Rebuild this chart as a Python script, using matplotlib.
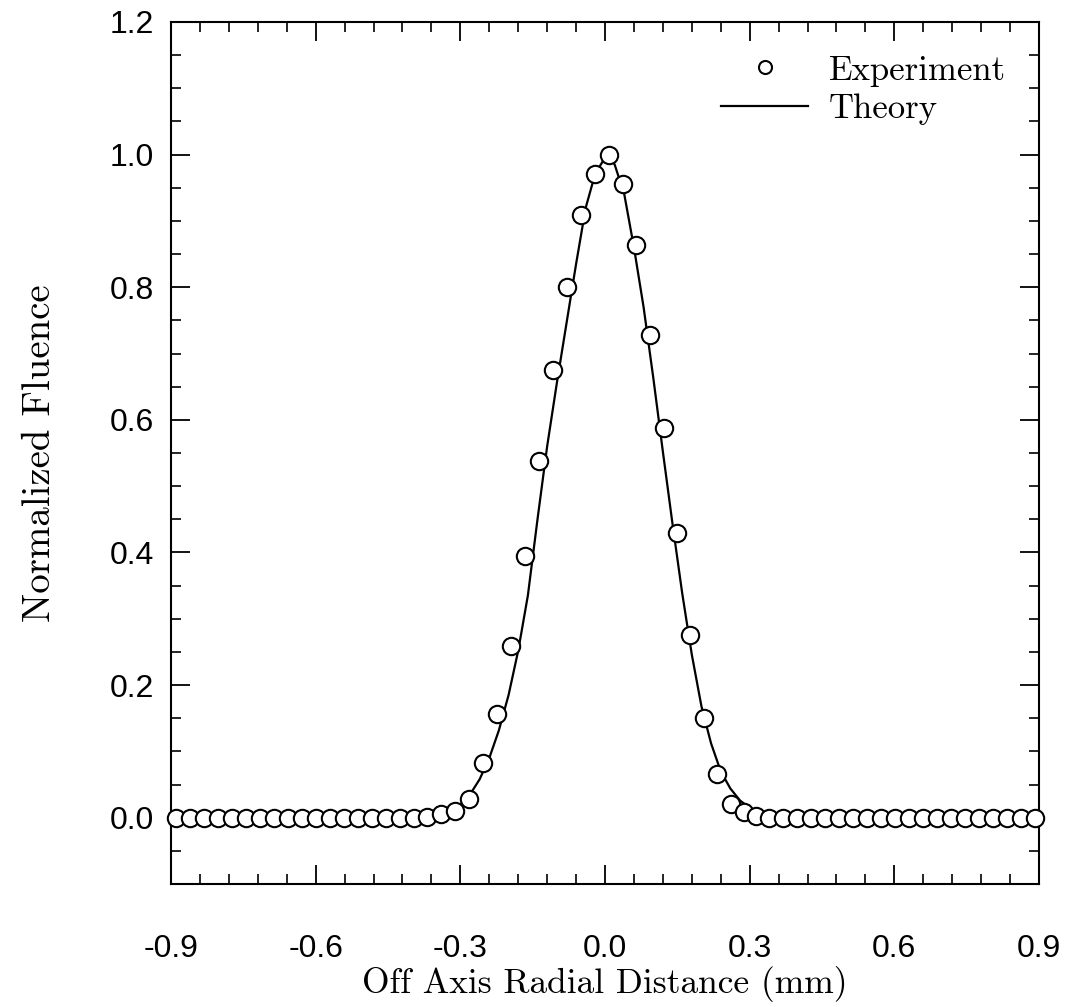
import matplotlib
matplotlib.use("Agg")
import matplotlib.pyplot as plt
from matplotlib.ticker import MultipleLocator, FixedLocator

exp_x = [-0.890, -0.861, -0.832, -0.803, -0.774, -0.745, -0.716, -0.687, -0.658,
         -0.629, -0.600, -0.571, -0.542, -0.513, -0.484, -0.455, -0.426, -0.397,
         -0.370, -0.340, -0.311, -0.282, -0.254, -0.225, -0.196, -0.166, -0.137,
         -0.108, -0.078, -0.049, -0.021, 0.008, 0.037, 0.065, 0.094, 0.122,
         0.150, 0.177, 0.205, 0.233, 0.261, 0.288, 0.313, 0.340, 0.369, 0.398,
         0.427, 0.456, 0.485, 0.514, 0.543, 0.572, 0.601, 0.630, 0.659, 0.688,
         0.717, 0.746, 0.775, 0.804, 0.833, 0.862, 0.891]
exp_y = [0.0, 0.0, 0.0, 0.0, 0.0, 0.0, 0.0, 0.0, 0.0,
         0.0, 0.0, 0.0, 0.0, 0.0, 0.0, 0.0, 0.0, 0.0,
         0.001, 0.005, 0.010, 0.028, 0.083, 0.156, 0.259, 0.395, 0.538,
         0.675, 0.801, 0.909, 0.971, 1.000, 0.955, 0.863, 0.728, 0.587,
         0.430, 0.276, 0.151, 0.066, 0.021, 0.009, 0.003, 0.0, 0.0, 0.0,
         0.0, 0.0, 0.0, 0.0, 0.0, 0.0, 0.0, 0.0, 0.0, 0.0,
         0.0, 0.0, 0.0, 0.0, 0.0, 0.0, 0.0]

# ---- Theory curve ----
th_x = [-0.900, -0.450, -0.400, -0.370, -0.340, -0.320, -0.300, -0.280, -0.260,
        -0.240, -0.220, -0.200, -0.180, -0.160, -0.140, -0.120, -0.100, -0.080,
        -0.060, -0.040, -0.020, 0.000, 0.007, 0.020, 0.040, 0.060, 0.080, 0.100,
        0.120, 0.140, 0.160, 0.180, 0.200, 0.220, 0.240, 0.260, 0.280, 0.300,
        0.320, 0.350, 0.380, 0.450, 0.900]
th_y = [0.0, 0.0, 0.001, 0.003, 0.007, 0.012, 0.020, 0.035, 0.058,
        0.090, 0.132, 0.185, 0.252, 0.335, 0.450, 0.560, 0.655, 0.745,
        0.835, 0.920, 0.972, 0.995, 0.997, 0.985, 0.940, 0.860, 0.770, 0.664,
        0.552, 0.443, 0.339, 0.246, 0.168, 0.112, 0.070, 0.044, 0.026, 0.015,
        0.007, 0.001, 0.0, 0.0, 0.0]

x_ticks = [-0.9, -0.6, -0.3, 0.0, 0.3, 0.6, 0.9]
x_tick_labels = ["-0.9", "-0.6", "-0.3", "0.0", "0.3", "0.6", "0.9"]
y_ticks = [0.0, 0.2, 0.4, 0.6, 0.8, 1.0, 1.2]
y_tick_labels = ["0.0", "0.2", "0.4", "0.6", "0.8", "1.0", "1.2"]

serif = "cmr10"
sans = "Liberation Sans"

fig = plt.figure(figsize=(10.73, 10.07), dpi=100)
ax = fig.add_axes([0.1594, 0.1221, 0.8089, 0.8561])

ax.plot(th_x, th_y, color="black", lw=1.6, label="Theory", zorder=2)
ax.plot(exp_x, exp_y, linestyle="none", marker="o", markersize=12.5,
        markerfacecolor="white", markeredgecolor="black", markeredgewidth=1.5,
        label="Experiment", zorder=3, clip_on=False)

ax.set_xlim(-0.9, 0.9)
ax.set_ylim(-0.1, 1.2)

ax.xaxis.set_major_locator(FixedLocator(x_ticks))
ax.set_xticklabels(x_tick_labels)
ax.yaxis.set_major_locator(FixedLocator(y_ticks))
ax.set_yticklabels(y_tick_labels)
ax.xaxis.set_minor_locator(MultipleLocator(0.06))
ax.yaxis.set_minor_locator(MultipleLocator(0.05))

ax.tick_params(which="both", direction="in", top=True, right=True, color="black")
ax.tick_params(which="major", length=14, width=1.3)
ax.tick_params(which="minor", length=7, width=1.2)
ax.tick_params(axis="x", which="major", pad=36, labelsize=23)
ax.tick_params(axis="y", which="major", pad=12, labelsize=23)
for lab in ax.get_xticklabels() + ax.get_yticklabels():
    lab.set_family(sans)

for s in ax.spines.values():
    s.set_linewidth(1.5)

ax.set_xlabel("Off Axis Radial Distance (mm)", family=serif, fontsize=25.5,
              va="center")
ax.xaxis.set_label_coords(0.5, -0.1165)
ax.set_ylabel("Normalized Fluence", family=serif, fontsize=28, va="center")
ax.yaxis.set_label_coords(-0.151, 0.5)

handles, labels = ax.get_legend_handles_labels()
leg = ax.legend([handles[1], handles[0]], [labels[1], labels[0]],
                loc="upper right", frameon=False, prop={"family": serif, "size": 25},
                handlelength=2.5, handletextpad=0.6, borderaxespad=0.55,
                labelspacing=0.2, markerscale=0.75)

fig.savefig("out.png", dpi=100)
